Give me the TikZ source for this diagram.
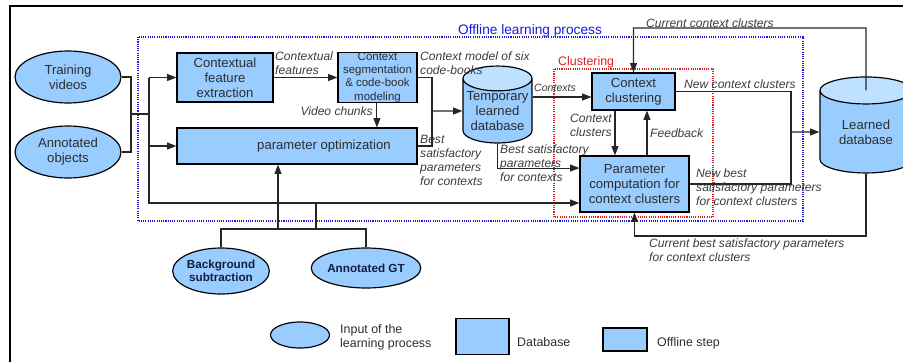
\documentclass[tikz,border=0pt]{standalone}
\usepackage{fontspec}
\setmainfont{Liberation Sans}
\usetikzlibrary{shapes.geometric,arrows.meta}
\definecolor{stepblue}{RGB}{153,204,255}
\definecolor{dbtop}{RGB}{190,225,255}
\definecolor{txtgray}{RGB}{45,45,45}
\definecolor{lblgray}{RGB}{60,60,60}
\definecolor{offblue}{RGB}{25,25,215}
\definecolor{clured}{RGB}{225,30,30}
\definecolor{gtnavy}{RGB}{20,30,60}
\newcommand{\pxu}{0.03cm}
\newcommand{\boxfont}{\fontsize{11.2}{12.8}\selectfont}
\newcommand{\segfont}{\fontsize{9.8}{11.2}\selectfont}
\newcommand{\lblfont}{\fontsize{10.3}{12}\selectfont\itshape}
\newcommand{\gtfont}{\fontsize{10}{11.2}\selectfont\bfseries}
\tikzset{
    stepbox/.style={rectangle, draw, fill=stepblue, line width=1pt,
    	inner sep=0pt, align=center, text=txtgray, font=\boxfont},
    inputnode/.style={ellipse, draw, fill=stepblue, line width=1pt,
    	inner sep=0pt, align=center, text=txtgray, font=\boxfont},
    dbnode/.style={cylinder, shape border rotate=90, draw, line width=1pt,
    	cylinder uses custom fill, cylinder body fill=stepblue,
    	cylinder end fill=dbtop, inner sep=0pt, align=center,
    	text=txtgray, font=\boxfont}
}
\tikzset{
    lbl/.style={inner sep=0pt, align=left, text=lblgray, font=\lblfont},
    conn/.style={draw=black!85, line width=0.9pt},
    arr/.style={conn, -{Triangle[length=8pt,width=6pt]}}
}
\pgfdeclarelayer{background}
\pgfsetlayers{background,main}
\begin{document}
\begin{tikzpicture}[x=\pxu, y=-\pxu]
  \useasboundingbox (0,0) rectangle (903,361);
  \draw[line width=1.7pt] (10,370) -- (10,6) -- (910,6);

  % inputs
  \node (train) [inputnode, minimum width=106*\pxu, minimum height=52*\pxu] at (68,77) {Training\\videos};
  \node (annot) [inputnode, minimum width=106*\pxu, minimum height=52*\pxu] at (68,152) {Annotated\\objects};
  \node (bgs) [inputnode, font=\gtfont, text=gtnavy, minimum width=84*\pxu, minimum height=46*\pxu] at (221,271) {Background\\subtraction};
  \node (agt) [inputnode, font=\gtfont, text=gtnavy, minimum width=94*\pxu, minimum height=40*\pxu] at (366,268) {Annotated GT};

  % offline steps
  \node (cfe) [stepbox, minimum width=96*\pxu, minimum height=49*\pxu] at (225,77.5) {Contextual\\feature\\extraction};
  \node (cseg) [stepbox, font=\segfont, minimum width=79*\pxu, minimum height=50*\pxu] at (377.5,77.5) {Context\\segmentation\\\& code-book\\modeling};
  \node (popt) [stepbox, minimum width=240*\pxu, minimum height=36*\pxu] at (297,146) {\hspace*{46pt}parameter optimization};
  \node (tdb) [dbnode, aspect=0.4, minimum width=69*\pxu, minimum height=62*\pxu] at (497.5,111) {Temporary\\learned\\database};
  \node (ccl) [stepbox, minimum width=83*\pxu, minimum height=37*\pxu] at (633.5,91.5) {Context\\clustering};
  \node (pcc) [stepbox, minimum width=109*\pxu, minimum height=56*\pxu] at (634.5,184) {Parameter\\computation for\\context clusters};
  \node (ldb) [dbnode, aspect=0.5, minimum width=92*\pxu, minimum height=96*\pxu] at (866,132) {Learned\\database};

  % process frames
  \begin{pgfonlayer}{background}
    \draw[offblue, densely dotted, line width=0.9pt] (138,37) rectangle (803,221);
    \draw[clured, densely dotted, line width=0.9pt] (554,69) rectangle (713,217);
  \end{pgfonlayer}
  \node (toff) [inner sep=0pt, text=offblue, font=\fontsize{11.7}{13}\selectfont, anchor=base] at (530,34.5) {Offline learning process};
  \node (tclu) [inner sep=0pt, text=clured, font=\fontsize{10.6}{12}\selectfont, anchor=base west] at (558,65.5) {Clustering};

  % connectors
  \coordinate (jin) at (131,114);
  \coordinate (jbus) at (149,114);
  \coordinate (busbot) at (149,203);
  \draw[conn] (train.east) -| (jin) |- (annot.east);
  \draw[conn] (jin) -- (jbus);
  \draw[arr] (jbus |- cfe.west) -- (busbot) -- (busbot -| pcc.west);
  \draw[arr] (jbus |- cfe.west) -- (cfe.west);
  \draw[arr] (jbus |- popt.west) -- (popt.west);

  \coordinate (jgt) at (316,229);
  \coordinate (jpo) at (278,229);
  \draw[conn] (bgs.north) |- (jgt) -| (agt.north);
  \draw[arr] (jpo) -- (jpo |- popt.south);
  \draw[conn] (jgt) -- (jgt |- busbot);

  \draw[arr] (cfe.east) -- (cseg.west);
  \draw[arr] ([xshift=-0.5pt]cseg.south) -- ([xshift=-0.5pt]cseg.south |- popt.north);
  \coordinate (jdb) at (432,111);
  \draw[conn] (cseg.east) -| (jdb);
  \draw[conn] (popt.east) -| (jdb);
  \draw[arr] (jdb) -- (tdb.west);

  \coordinate (ctx) at ([yshift=-4.7pt]ccl.west);
  \draw[arr] (tdb.east |- ctx) -- (ctx);
  \coordinate (pin) at ([yshift=13.6pt]pcc.west);
  \draw[arr] (tdb.south) |- (pin);

  \coordinate (cdown) at ([xshift=-15.8pt]ccl.south);
  \coordinate (cup) at ([xshift=11.5pt]ccl.south);
  \draw[arr] (cdown) -- (cdown |- pcc.north);
  \draw[arr] (cup |- pcc.north) -- (cup);

  \coordinate (jout) at (791,132);
  \draw[conn] (ccl.east) -| (jout);
  \draw[conn] (pcc.east) -| (jout);
  \draw[arr] (jout) -- (ldb.west);

  \coordinate (capc) at ([yshift=-12pt]ldb.north);
  \coordinate (ctop) at (866,28);
  \coordinate (cbot) at (866,236);
  \draw[arr] (capc) -- (ctop) -| (ccl.north);
  \draw[arr] (ldb.south) -- (cbot) -| (pcc.south);

  % connector labels
  \node (lcf) [lbl, anchor=north west] at (275,51.5) {Contextual\\features};
  \node (lcm) [lbl, anchor=north west] at (420,51.5) {Context model of six\\code-books};
  \node (lvc) [lbl, anchor=east] at (373,111) {Video chunks};
  \node (lbs) [lbl, anchor=north west] at (420,134.5) {Best\\satisfactory\\parameters\\for contexts};
  \node (lctx) [lbl, font=\fontsize{9}{10}\selectfont\itshape, anchor=west] at (534,88) {Contexts};
  \node (lbt) [lbl, anchor=north west] at (500,144.5) {Best satisfactory\\parameters\\for contexts};
  \node (lcc) [lbl, align=right, anchor=north east] at (612,113.5) {Context\\clusters};
  \node (lfb) [lbl, anchor=west] at (650,133) {Feedback};
  \node (lnc) [lbl, anchor=west] at (684,84) {New context clusters};
  \node (lnb) [lbl, anchor=north west] at (696,168.5) {New best\\satisfactory parameters\\for context clusters};
  \node (lcur) [lbl, anchor=west] at (646,23) {Current context clusters};
  \node (lcb) [lbl, anchor=north west] at (649,238.5) {Current best satisfactory parameters\\for context clusters};

  % legend
  \node (lin) [inputnode, minimum width=59*\pxu, minimum height=26*\pxu] at (300,335) {};
  \node (tin) [inner sep=0pt, align=left, text=txtgray, font=\fontsize{10.6}{12.4}\selectfont, anchor=north west] at (340,324) {Input of the\\learning process};
  \node (ldbl) [dbnode, aspect=0.4, minimum width=53*\pxu, minimum height=36*\pxu] at (482.5,337) {};
  \node (tdbl) [inner sep=0pt, text=txtgray, font=\fontsize{10.6}{12.4}\selectfont, anchor=west] at (517,342) {Database};
  \node (lst) [stepbox, minimum width=44*\pxu, minimum height=23*\pxu] at (625,339.5) {};
  \node (tst) [inner sep=0pt, text=txtgray, font=\fontsize{10.6}{12.4}\selectfont, anchor=base west] at (657,346) {Offline step};
\end{tikzpicture}
\end{document}
